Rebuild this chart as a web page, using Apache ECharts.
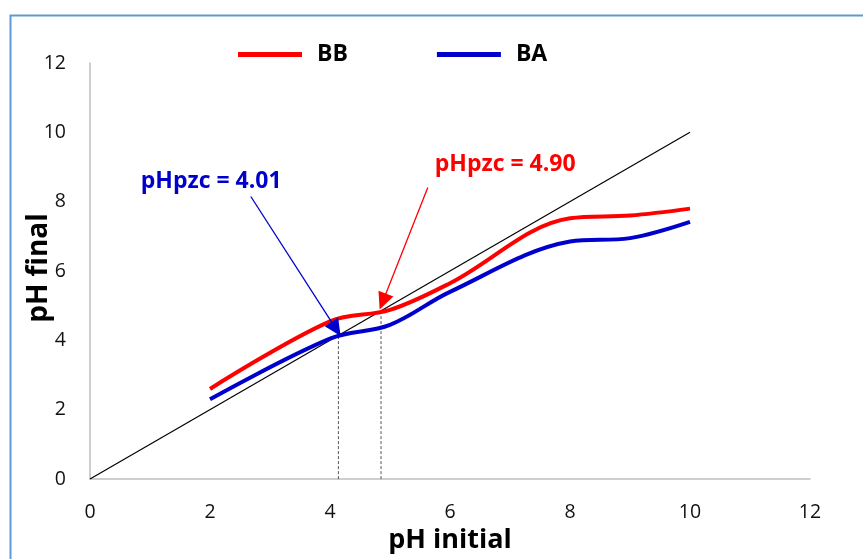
<!DOCTYPE html>
<html>
<head>
<meta charset="utf-8">
<script src="https://cdn.jsdelivr.net/npm/echarts@6/dist/echarts.min.js"></script>
<style>
html,body{margin:0;padding:0;background:#fff;}
#chart{width:863px;height:559px;}
</style>
</head>
<body>
<div id="chart"></div>
<script>
// ---- data ----
const phInitial = [2, 4, 5, 6, 8, 9, 10];
const bbFinal = [2.6, 4.55, 4.88, 5.65, 7.52, 7.6, 7.8];
const baFinal = [2.3, 4.05, 4.45, 5.4, 6.85, 6.95, 7.42];
const diagonalX = [0, 10];
const diagonalY = [0, 10];
const pzcLineX = [4.14, 4.85];
const pzcLineTop = [4.14, 4.87];
const pzcLabels = ['pHpzc = 4.01', 'pHpzc = 4.90'];
const pzcLabelPos = [[2.02, 8.58], [6.92, 9.07]];
const arrowFrom = [[2.68, 8.15], [5.63, 8.41]];
const arrowTo = [[4.1, 4.33], [4.88, 5.12]];
const axisTicks = [0, 2, 4, 6, 8, 10, 12];
const seriesNames = ['BB', 'BA'];

const RED = '#FF0000', BLUE = '#0000CC';
const FONT = '"Open Sans", "Liberation Sans", sans-serif';

const chart = echarts.init(document.getElementById('chart'), null, {renderer: 'canvas'});

function pairs(xs, ys) { return xs.map((x, i) => [x, ys[i]]); }

const annColors = [BLUE, RED];

const option = {
  animation: false,
  backgroundColor: '#fff',
  grid: {left: 90, right: 53, top: 63, bottom: 77, containLabel: false},
  legend: {
    data: seriesNames,
    left: 233, top: 38,
    icon: 'rect',
    itemWidth: 64, itemHeight: 5,
    itemGap: 89,
    textStyle: {fontFamily: FONT, fontWeight: 'bold', fontSize: 23, color: '#000', padding: [0, 0, 0, 10]}
  },
  xAxis: {
    type: 'value', min: axisTicks[0], max: axisTicks[axisTicks.length - 1], interval: 2,
    name: 'pH initial', nameLocation: 'middle', nameGap: 47,
    nameTextStyle: {fontFamily: FONT, fontWeight: 'bold', fontSize: 27, color: '#000'},
    axisLine: {show: true, lineStyle: {color: '#BFBFBF', width: 1.5}},
    axisTick: {show: false},
    splitLine: {show: false},
    axisLabel: {fontFamily: FONT, fontSize: 19.5, color: '#111', margin: 23}
  },
  yAxis: {
    type: 'value', min: axisTicks[0], max: axisTicks[axisTicks.length - 1], interval: 2,
    axisLine: {show: true, lineStyle: {color: '#BFBFBF', width: 1.5}},
    axisTick: {show: false},
    splitLine: {show: false},
    axisLabel: {fontFamily: FONT, fontSize: 19.5, color: '#111', margin: 24}
  },
  graphic: [
    {type: 'rect', left: 8, top: 13, shape: {x: 0, y: 0, width: 900, height: 600},
     style: {fill: 'none', stroke: '#5B9BD5', lineWidth: 2}, silent: true, z: 100},
    {type: 'text', x: 39, y: 268, rotation: Math.PI / 2,
     style: {text: 'pH final', fontFamily: FONT, fontWeight: 'bold', fontSize: 28, fill: '#000',
             align: 'center', verticalAlign: 'middle'}}
  ],
  series: [
    {
      name: 'diagonal', type: 'line', data: pairs(diagonalX, diagonalY),
      symbol: 'none', lineStyle: {color: '#000', width: 1.2}, z: 1, silent: true
    },
    ...pzcLineX.map((x, i) => ({
      name: 'pzc' + i, type: 'line', data: [[x, 0], [x, pzcLineTop[i]]],
      symbol: 'none', lineStyle: {color: '#555', width: 1, type: [3, 2]}, z: 1, silent: true
    })),
    {
      name: 'BB', type: 'line', data: pairs(phInitial, bbFinal),
      smooth: 0.35, symbol: 'none', color: RED,
      lineStyle: {color: RED, width: 4}, z: 3
    },
    {
      name: 'BA', type: 'line', data: pairs(phInitial, baFinal),
      smooth: 0.35, symbol: 'none', color: BLUE,
      lineStyle: {color: BLUE, width: 4}, z: 3
    },
    {
      name: 'annotations', type: 'line', data: [], z: 5, silent: true,
      markLine: {
        silent: true, animation: false,
        symbol: ['none', 'triangle'], symbolSize: [16, 17],
        label: {show: false},
        data: arrowFrom.map((f, i) => [
          {coord: f, lineStyle: {color: annColors[i], width: 1.3, type: 'solid'}, itemStyle: {color: annColors[i]}},
          {coord: arrowTo[i]}
        ])
      },
      markPoint: {
        silent: true, animation: false, symbol: 'circle', symbolSize: 1,
        itemStyle: {color: 'rgba(0,0,0,0)'},
        data: pzcLabels.map((t, i) => ({
          coord: pzcLabelPos[i],
          label: {show: true, position: 'inside', formatter: t, fontFamily: FONT, fontWeight: 'bold',
                  fontSize: 23, color: annColors[i]}
        }))
      }
    }
  ]
};
chart.setOption(option);
</script>
</body>
</html>
